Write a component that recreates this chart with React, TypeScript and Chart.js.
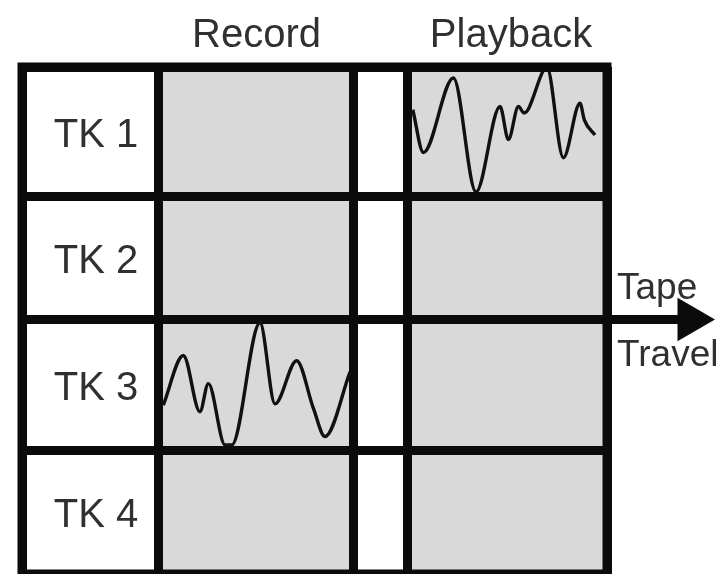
import React, { useEffect, useRef } from "react";
import { Chart, registerables } from "chart.js";

Chart.register(...registerables);

// ---- data ----
const tracks = ["TK 1", "TK 2", "TK 3", "TK 4"];
const columnTitles = ["Record", "Playback"];
const arrowLabels = ["Tape", "Travel"];

// Waveform on TK 1, read in the Playback column: time = fraction across the cell,
// amplitude = -1 (bottom edge of the cell) … +1 (top edge of the cell)
const tk1PlaybackTime = [0.029, 0.082, 0.232, 0.345, 0.465, 0.507, 0.557, 0.585, 0.605, 0.682, 0.699, 0.782, 0.865, 0.887, 0.94];
const tk1PlaybackAmp = [0.34, -0.32, 0.83, -0.93, 0.39, -0.12, 0.39, 0.29, 0.34, 0.95, 1.0, -0.4, 0.44, 0.18, -0.05];

// Waveform on TK 3, read in the Record column
const tk3RecordTime = [0.027, 0.13, 0.215, 0.258, 0.344, 0.378, 0.523, 0.6, 0.711, 0.797, 0.856, 0.985];
const tk3RecordAmp = [-0.31, 0.45, -0.41, 0.02, -0.92, -0.92, 0.95, -0.29, 0.37, -0.36, -0.79, 0.2];

// ---- layout (scale units) ----
const COL_EDGES = [0, 136, 331, 385, 585]; // label | record | gap | playback
const ROW_EDGES = [0, 1.022, 1.992, 3.024, 4.0];
const X_MAX = 585;
const ARROW_LEN = 83;
const HEAD_R = 25;
const INK = "#0b0b0b";
const TEXT = "#303030";
const GRAY = "#d9d9d9";
const FONT = '"Liberation Sans", Arial, sans-serif';

const RECORD_COL = 1;
const PLAY_COL = 3;

function wave(times: number[], amps: number[], col: number, row: number) {
  const x0 = COL_EDGES[col];
  const w = COL_EDGES[col + 1] - x0;
  const y0 = ROW_EDGES[row];
  const h = ROW_EDGES[row + 1] - y0;
  return times.map((t, i) => ({ x: x0 + t * w, y: y0 + ((1 - amps[i]) / 2) * h }));
}

const cellPlugin = {
  id: "cells",
  beforeDraw(chart: any) {
    const { ctx } = chart;
    const { x, y } = chart.scales;
    ctx.save();
    ctx.fillStyle = "#ffffff";
    ctx.fillRect(0, 0, chart.width, chart.height);
    ctx.fillStyle = GRAY;
    [RECORD_COL, PLAY_COL].forEach((c) => {
      const xa = x.getPixelForValue(COL_EDGES[c]);
      const xb = x.getPixelForValue(COL_EDGES[c + 1]);
      const ya = y.getPixelForValue(ROW_EDGES[0]);
      const yb = y.getPixelForValue(ROW_EDGES[ROW_EDGES.length - 1]);
      ctx.fillRect(xa, ya, xb - xa, yb - ya);
    });
    ctx.restore();
  },
  afterDatasetsDraw(chart: any) {
    const { ctx, chartArea } = chart;
    ctx.save();
    ctx.strokeStyle = INK;
    ctx.lineWidth = 9;
    ctx.lineJoin = "miter";
    ctx.strokeRect(chartArea.left, chartArea.top, chartArea.right - chartArea.left, chartArea.bottom - chartArea.top);
    // arrow head at the end of the tape-travel line
    const pts = chart.getDatasetMeta(2).data;
    const tip = pts[pts.length - 1];
    if (tip) {
      ctx.fillStyle = INK;
      ctx.beginPath();
      ctx.moveTo(tip.x + HEAD_R, tip.y);
      ctx.lineTo(tip.x - HEAD_R / 2, tip.y - (HEAD_R * Math.sqrt(3)) / 2);
      ctx.lineTo(tip.x - HEAD_R / 2, tip.y + (HEAD_R * Math.sqrt(3)) / 2);
      ctx.closePath();
      ctx.fill();
    }
    ctx.restore();
  },
  afterDraw(chart: any) {
    const { ctx, chartArea } = chart;
    const { x, y } = chart.scales;
    ctx.save();
    ctx.fillStyle = TEXT;
    ctx.textBaseline = "alphabetic";
    ctx.font = `40px ${FONT}`;
    ctx.textAlign = "center";
    const titleCols = [RECORD_COL, PLAY_COL];
    columnTitles.forEach((t, i) => {
      const c = titleCols[i];
      const cx = (x.getPixelForValue(COL_EDGES[c]) + x.getPixelForValue(COL_EDGES[c + 1])) / 2;
      ctx.fillText(t, cx + (i === 1 ? 4 : 1), chartArea.top - 20);
    });
    const lx = (x.getPixelForValue(COL_EDGES[0]) + x.getPixelForValue(COL_EDGES[1])) / 2;
    tracks.forEach((t, i) => {
      const cy = (y.getPixelForValue(ROW_EDGES[i]) + y.getPixelForValue(ROW_EDGES[i + 1])) / 2;
      ctx.fillText(t, lx + 6, cy + 15);
    });
    ctx.textAlign = "left";
    ctx.font = `37px ${FONT}`;
    const ay = y.getPixelForValue(ROW_EDGES[2]);
    ctx.fillText(arrowLabels[0], chartArea.right + 10, ay - 20);
    ctx.fillText(arrowLabels[1], chartArea.right + 10, ay + 47);
    ctx.restore();
  },
};

export default function App() {
  const ref = useRef<HTMLCanvasElement | null>(null);

  useEffect(() => {
    if (!ref.current) return;
    const waveStyle = {
      showLine: true,
      borderColor: "#111111",
      borderWidth: 3.4,
      pointRadius: 0,
      tension: 0.4,
      cubicInterpolationMode: "monotone" as const,
    };
    const chart = new Chart(ref.current, {
      type: "scatter",
      data: {
        datasets: [
          { ...waveStyle, data: wave(tk1PlaybackTime, tk1PlaybackAmp, PLAY_COL, 0) },
          { ...waveStyle, data: wave(tk3RecordTime, tk3RecordAmp, RECORD_COL, 2) },
          {
            showLine: true,
            data: [
              { x: X_MAX, y: ROW_EDGES[2] },
              { x: X_MAX + ARROW_LEN, y: ROW_EDGES[2] },
            ],
            borderColor: INK,
            borderWidth: 9,
            pointRadius: 0,
            clip: false as any,
          } as any,
        ],
      },
      options: {
        animation: false,
        responsive: false,
        devicePixelRatio: 1,
        events: [],
        layout: { autoPadding: false, padding: { left: 22, top: 67, right: 109, bottom: -2 } },
        plugins: { legend: { display: false }, tooltip: { enabled: false } },
        scales: {
          x: {
            type: "linear",
            min: 0,
            max: X_MAX,
            afterBuildTicks: (s: any) => {
              s.ticks = COL_EDGES.map((v) => ({ value: v }));
            },
            ticks: { display: false },
            grid: { color: INK, lineWidth: 9, drawTicks: false },
            border: { display: false },
          },
          y: {
            type: "linear",
            min: 0,
            max: 4,
            reverse: true,
            afterBuildTicks: (s: any) => {
              s.ticks = ROW_EDGES.map((v) => ({ value: v }));
            },
            ticks: { display: false },
            grid: { color: INK, lineWidth: 9, drawTicks: false },
            border: { display: false },
          },
        },
      },
      plugins: [cellPlugin],
    });
    return () => chart.destroy();
  }, []);

  return (
    <div style={{ position: "fixed", left: 0, top: 0, width: 716, height: 574, background: "#fff" }}>
      <canvas ref={ref} width={716} height={574} />
    </div>
  );
}
